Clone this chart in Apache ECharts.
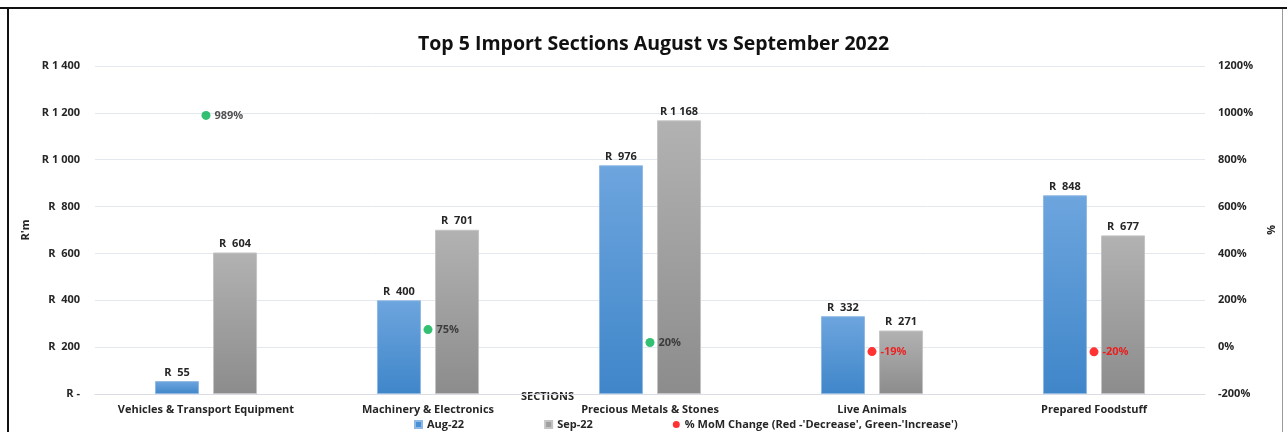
<!DOCTYPE html>
<html>
<head>
<meta charset="utf-8">
<script src="https://cdn.jsdelivr.net/npm/echarts@6/dist/echarts.min.js"></script>
<style>
  html, body { margin: 0; padding: 0; background: #fff; }
  #main { position: absolute; left: 0; top: 0; width: 1287px; height: 432px; }
  .edge { position: absolute; }
</style>
</head>
<body>
<div id="main"></div>
<div class="edge" style="left:0;top:7px;width:1287px;height:2px;background:#111;"></div>
<div class="edge" style="left:7px;top:7px;width:2px;height:425px;background:#111;"></div>
<div class="edge" style="left:1282px;top:9px;width:1px;height:423px;background:#9a9a9a;"></div>
<script>
var sections = ['Vehicles & Transport Equipment', 'Machinery & Electronics', 'Precious Metals & Stones', 'Live Animals', 'Prepared Foodstuff'];
var aug22 = [55, 400, 976, 332, 848];
var sep22 = [604, 701, 1168, 271, 677];
var momChange = [989, 75, 20, -19, -20];
var leftTicks = { min: 0, max: 1400, step: 200 };
var rightTicks = { min: -200, max: 1200, step: 200 };

var FONT = '"Open Sans", "Liberation Sans", sans-serif';
var TXT = '#262626';
var FS = 11;

function rand(v) {
	if (v === 0) return 'R -';
	var s = String(Math.round(v)).replace(/\B(?=(\d{3})+(?!\d))/g, ' ');
	return v >= 1000 ? 'R ' + s : 'R  ' + s;
}

var Chart = {
	draw: function() {
		var myChart = echarts.init(document.getElementById('main'), null, { renderer: 'canvas' });

		var momData = momChange.map(function(v) {
			var up = v >= 0;
			return {
				value: v,
				itemStyle: { color: up ? '#00b050' : '#ff0000' },
				label: { color: up ? '#262626' : '#ff0000' }
			};
		});

		var option = {
			backgroundColor: '#fff',
			textStyle: { fontFamily: FONT },
			title: {
				text: 'Top 5 Import Sections August vs September 2022',
				left: 413,
				top: 29,
				textStyle: { fontFamily: FONT, fontSize: 19.5, fontWeight: 'bold', color: '#111' }
			},
			legend: {
				left: 409,
				top: 414,
				itemWidth: 7,
				itemHeight: 7,
				itemGap: 80,
				textStyle: { fontFamily: FONT, fontSize: FS, fontWeight: 'bold', color: TXT },
				data: [
					{ name: 'Aug-22', icon: 'rect', itemStyle: { color: '#4a90d6' } },
					{ name: 'Sep-22', icon: 'rect', itemStyle: { color: '#a0a0a0' } },
					{ name: "% MoM Change (Red -'Decrease', Green-'Increase')", icon: 'circle', itemStyle: { color: '#ff0000' } }
				]
			},
			grid: { left: 95, right: 82, top: 66, bottom: 38 },
			graphic: [{
				type: 'text',
				left: 521,
				top: 391,
				style: { text: 'SECTIONS', font: 'bold ' + FS + 'px ' + FONT, fill: TXT }
			}],
			xAxis: {
				type: 'category',
				data: sections,
				axisLine: { lineStyle: { color: '#d9dde3' } },
				axisTick: { show: false },
				axisLabel: { fontSize: FS, fontWeight: 'bold', color: TXT, margin: 10, interval: 0 }
			},
			yAxis: [{
				type: 'value',
				min: leftTicks.min,
				max: leftTicks.max,
				interval: leftTicks.step,
				name: "R'm",
				nameLocation: 'middle',
				nameRotate: 90,
				nameGap: 62,
				nameTextStyle: { fontSize: FS, fontWeight: 'bold', color: TXT },
				axisLine: { show: false },
				axisTick: { show: false },
				axisLabel: { fontSize: FS, fontWeight: 'bold', color: TXT, margin: 15, formatter: rand },
				splitLine: { lineStyle: { color: '#e3e7ee', width: 1 } }
			}, {
				type: 'value',
				min: rightTicks.min,
				max: rightTicks.max,
				interval: rightTicks.step,
				name: '%',
				nameLocation: 'middle',
				nameRotate: -90,
				nameGap: 60,
				nameTextStyle: { fontSize: FS, fontWeight: 'bold', color: TXT },
				axisLine: { show: false },
				axisTick: { show: false },
				axisLabel: {
					fontSize: FS, fontWeight: 'bold', color: TXT, margin: 13,
					formatter: function(v) { return v + '%'; }
				},
				splitLine: { show: false }
			}],
			series: [{
				name: 'Aug-22',
				type: 'bar',
				data: aug22,
				barWidth: 44,
				barGap: '32%',
				itemStyle: {
					borderColor: '#8fb8e4',
					borderWidth: 1,
					color: new echarts.graphic.LinearGradient(0, 0, 0, 1, [
						{ offset: 0, color: '#6da5de' },
						{ offset: 1, color: '#3f86c9' }
					])
				},
				label: {
					show: true, position: 'top', distance: 3,
					fontSize: FS, fontWeight: 'bold', color: TXT,
					formatter: function(p) { return rand(p.value); }
				}
			}, {
				name: 'Sep-22',
				type: 'bar',
				data: sep22,
				barWidth: 44,
				itemStyle: {
					borderColor: '#c4c4c4',
					borderWidth: 1,
					color: new echarts.graphic.LinearGradient(0, 0, 0, 1, [
						{ offset: 0, color: '#b2b2b2' },
						{ offset: 1, color: '#8c8c8c' }
					])
				},
				label: {
					show: true, position: 'top', distance: 3,
					fontSize: FS, fontWeight: 'bold', color: TXT,
					formatter: function(p) { return rand(p.value); }
				}
			}, {
				name: "% MoM Change (Red -'Decrease', Green-'Increase')",
				type: 'scatter',
				yAxisIndex: 1,
				symbol: 'circle',
				symbolSize: 9,
				data: momData,
				itemStyle: { color: '#ff0000' },
				label: {
					show: true, position: 'right', distance: 4,
					fontSize: FS, fontWeight: 'bold',
					formatter: '{c}%'
				},
				z: 5
			}]
		};

		myChart.setOption(option);
	}
};

Chart.draw();
</script>
</body>
</html>
